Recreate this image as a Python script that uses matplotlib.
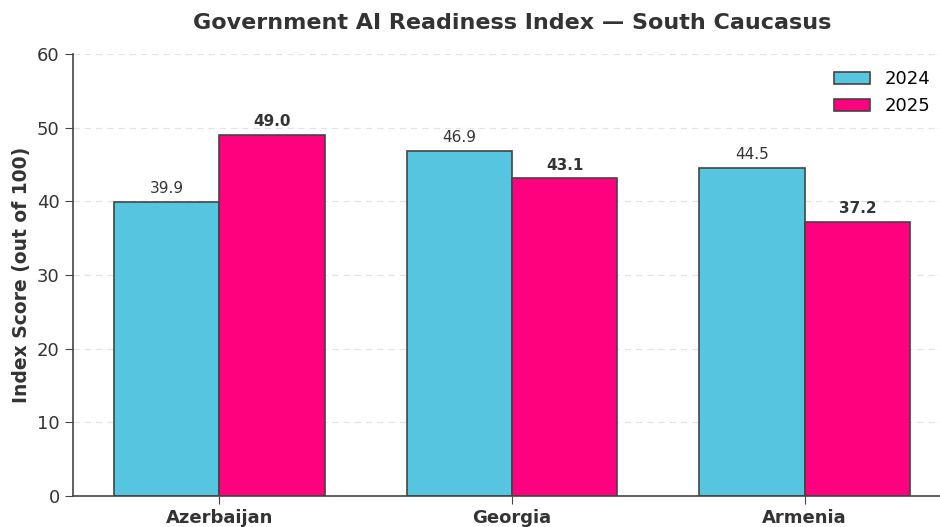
import matplotlib
matplotlib.use("Agg")
import matplotlib.pyplot as plt
import numpy as np

# data
countries = ["Azerbaijan", "Georgia", "Armenia"]
scores_2024 = [39.9, 46.9, 44.5]
scores_2025 = [49.0, 43.1, 37.2]

c2024 = "#56C6E0"
c2025 = "#FF007F"
dark = "#333333"
edge = "#444444"

fig = plt.figure(figsize=(9.4, 5.27), dpi=100)
# axes runs a little past the right edge, as in the cropped original
ax = fig.add_axes([73 / 940, 1 - 496 / 527, (951 - 73) / 940, 442 / 527])

x = np.arange(len(countries))
w = 0.36
b1 = ax.bar(x - w / 2, scores_2024, w, color=c2024, edgecolor=edge, linewidth=1.2, label="2024")
b2 = ax.bar(x + w / 2, scores_2025, w, color=c2025, edgecolor=edge, linewidth=1.2, label="2025")

for bar, v in zip(b1, scores_2024):
    ax.text(bar.get_x() + bar.get_width() / 2, v + 0.8, f"{v:.1f}",
            ha="center", va="bottom", fontsize=11, color=dark)
for bar, v in zip(b2, scores_2025):
    ax.text(bar.get_x() + bar.get_width() / 2, v + 0.8, f"{v:.1f}",
            ha="center", va="bottom", fontsize=11, color=dark, fontweight="bold")

ax.set_ylim(0, 60)
ax.set_xlim(-0.5, 2.5)
ax.set_xticks(x)
ax.set_xticklabels(countries, fontsize=13, fontweight="bold", color=dark)
ax.tick_params(axis="y", labelsize=13, colors=dark, length=6)
ax.tick_params(axis="x", length=6, color=edge)
ax.tick_params(axis="y", color=edge)
ax.set_ylabel("Index Score (out of 100)", fontsize=13.5, fontweight="bold", color=dark, labelpad=4)
ax.set_title("Government AI Readiness Index \u2014 South Caucasus",
             fontsize=16, fontweight="bold", color=dark, pad=18)

ax.yaxis.grid(True, linestyle=(0, (5, 4)), color="#e3e3e3", linewidth=0.9)
ax.set_axisbelow(True)
for s in ["top", "right"]:
    ax.spines[s].set_visible(False)
for s in ["left", "bottom"]:
    ax.spines[s].set_color(edge)
    ax.spines[s].set_linewidth(1.2)

ax.legend(frameon=False, fontsize=13, loc="upper right", bbox_to_anchor=(0.995, 1.0))

fig.savefig("out.png", dpi=100)
